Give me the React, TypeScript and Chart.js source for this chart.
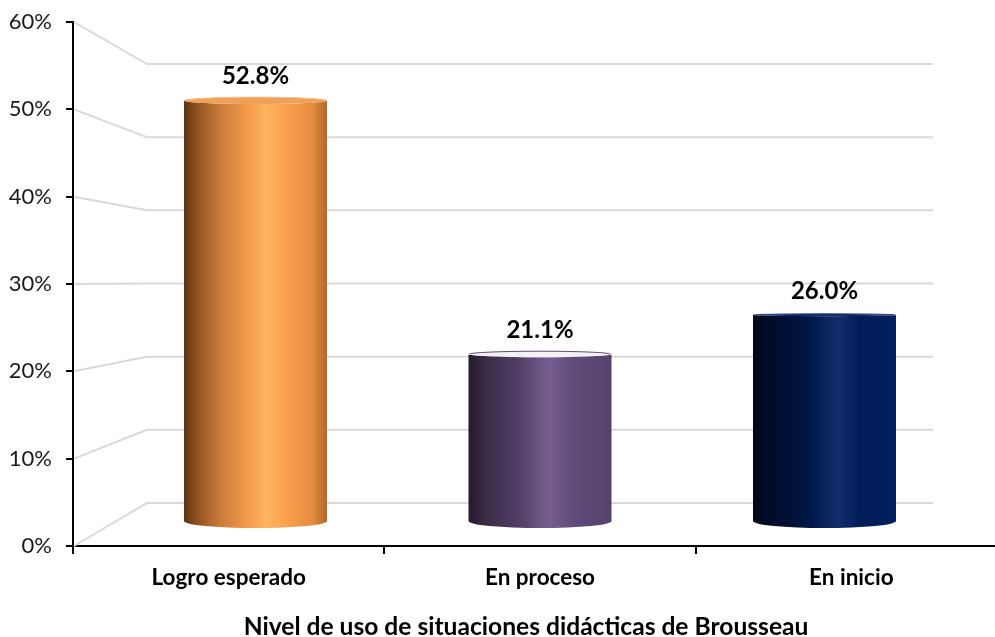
import React, { useEffect, useRef } from "react";
import { Chart, registerables } from "chart.js";

Chart.register(...registerables);

const categories = ["Logro esperado", "En proceso", "En inicio"];
const values = [52.8, 21.1, 26.0];
const yTickValues = [0, 10, 20, 30, 40, 50, 60];
const axisTitle = "Nivel de uso de situaciones didácticas de Brousseau";

const FONT = "Lato, 'Open Sans', sans-serif";

const bodyStops: [number, string][][] = [
  [
    [0, "#5e3212"],
    [0.08, "#8c4e20"],
    [0.25, "#c97c3b"],
    [0.45, "#f49a4a"],
    [0.57, "#ffb460"],
    [0.72, "#f9a04c"],
    [0.9, "#e48c3e"],
    [1, "#b2672a"],
  ],
  [
    [0, "#261a2e"],
    [0.12, "#3a2b46"],
    [0.35, "#503f65"],
    [0.56, "#755d91"],
    [0.75, "#5f4b79"],
    [1, "#54426d"],
  ],
  [
    [0, "#000717"],
    [0.15, "#000d2c"],
    [0.4, "#001748"],
    [0.6, "#132e6b"],
    [0.75, "#001d58"],
    [1, "#00205f"],
  ],
];
const capFill = ["#eda15a", "#f3f1f6", "#14296a"];
const capStroke = ["#f7c08a", "#5e4b78", "#2a3f7a"];
const capRy = [3.5, 3, 1.2];

const backWall = {
  id: "backWall",
  beforeDatasetsDraw(chart: any) {
    const { ctx, chartArea } = chart;
    const yF = chart.scales.y;
    const yB = chart.scales.yBack;
    const depth = 74;
    ctx.save();
    ctx.strokeStyle = "#d9d9d9";
    ctx.lineWidth = 2;
    yTickValues.forEach((v) => {
      const fy = yF.getPixelForValue(v);
      const by = yB.getPixelForValue(v);
      ctx.beginPath();
      ctx.moveTo(chartArea.left + 1, fy);
      ctx.lineTo(chartArea.left + depth, by);
      ctx.lineTo(chartArea.right - depth, by);
      ctx.stroke();
    });
    ctx.restore();
  },
};

const cylinders = {
  id: "cylinders",
  afterDatasetsDraw(chart: any) {
    const { ctx } = chart;
    const meta = chart.getDatasetMeta(0);
    meta.data.forEach((bar: any, i: number) => {
      const { x, y, base, width } = bar.getProps(["x", "y", "base", "width"], true);
      const rx = width / 2;
      const left = x - rx;
      const right = x + rx;
      const ryT = capRy[i];
      const ryB = 7;
      const bottom = base - 2;
      const g = ctx.createLinearGradient(left, 0, right, 0);
      bodyStops[i].forEach(([o, c]) => g.addColorStop(o, c));
      ctx.save();
      ctx.beginPath();
      ctx.moveTo(left, y);
      ctx.lineTo(left, bottom);
      ctx.ellipse(x, bottom, rx, ryB, 0, Math.PI, 0, true);
      ctx.lineTo(right, y);
      ctx.ellipse(x, y, rx, ryT, 0, 0, Math.PI, false);
      ctx.closePath();
      ctx.fillStyle = g;
      ctx.fill();
      // top cap
      ctx.beginPath();
      ctx.ellipse(x, y, rx, ryT, 0, 0, Math.PI * 2);
      ctx.fillStyle = capFill[i];
      ctx.fill();
      ctx.beginPath();
      ctx.ellipse(x, y, rx - 1, ryT, 0, Math.PI, Math.PI * 2);
      ctx.strokeStyle = capStroke[i];
      ctx.lineWidth = 1;
      ctx.stroke();
      // value label
      ctx.fillStyle = "#000";
      ctx.font = `bold 24px ${FONT}`;
      ctx.textAlign = "center";
      ctx.textBaseline = "middle";
      ctx.fillText(values[i].toFixed(1) + "%", x, y - 24);
      ctx.restore();
    });
  },
};

const bottomTitle = {
  id: "bottomTitle",
  afterDraw(chart: any) {
    const { ctx, chartArea } = chart;
    ctx.save();
    ctx.fillStyle = "#000";
    ctx.font = `bold 24.6px ${FONT}`;
    ctx.textAlign = "center";
    ctx.textBaseline = "middle";
    ctx.fillText(axisTitle, (chartArea.left + chartArea.right) / 2 - 14, chartArea.bottom + 81);
    ctx.restore();
  },
};

export default function App() {
  const ref = useRef<HTMLCanvasElement>(null);
  useEffect(() => {
    if (!ref.current) return;
    const chart = new Chart(ref.current, {
      type: "bar",
      data: {
        labels: categories,
        datasets: [
          {
            data: values.map((v, i) => ({ x: i, y: v })),
            xAxisID: "xb",
            yAxisID: "yb",
            backgroundColor: "rgba(0,0,0,0)",
            borderWidth: 0,
            barThickness: 143,
          },
        ],
      },
      options: {
        animation: false,
        responsive: false,
        maintainAspectRatio: false,
        layout: { padding: { top: 22, right: 13, left: 0, bottom: 0 } },
        plugins: { legend: { display: false }, tooltip: { enabled: false } },
        scales: {
          x: {
            type: "category",
            labels: categories,
            offset: true,
            grid: {
              offset: true,
              drawOnChartArea: false,
              tickLength: 8,
              color: "#000",
              lineWidth: 2,
            },
            border: { color: "#000", width: 2 },
            ticks: {
              color: "#000",
              font: { family: FONT, size: 22.5, weight: "bold" },
              padding: 10,
            },
            afterFit: (s: any) => {
              s.height = 96;
              s.paddingLeft = 0;
              s.paddingRight = 0;
            },
          },
          y: {
            type: "linear",
            min: 0,
            max: 60,
            ticks: {
              stepSize: 10,
              color: "#1a1a1a",
              font: { family: FONT, size: 22 },
              padding: 14,
              callback: (v: any) => v + "%",
            },
            grid: {
              drawOnChartArea: false,
              tickLength: 7,
              color: "#000",
              lineWidth: 2,
            },
            border: { color: "#000", width: 2 },
            afterFit: (s: any) => {
              s.width = 73;
              s.paddingTop = 0;
              s.paddingBottom = 0;
            },
          },
          xb: { type: "linear", display: false, offset: false, min: -0.6415, max: 2.6415 },
          yb: { type: "linear", display: false, min: -2.875, max: 62.625 },
          yBack: { type: "linear", display: false, min: -5.88, max: 65.74 },
        },
      } as any,
      plugins: [backWall, cylinders, bottomTitle],
    });
    return () => chart.destroy();
  }, []);
  return (
    <div
      style={{
        position: "fixed",
        left: 0,
        top: 0,
        width: 995,
        height: 637,
        overflow: "hidden",
        background: "#fff",
      }}
    >
      <canvas ref={ref} width={1020} height={642} style={{ display: "block" }} />
    </div>
  );
}
